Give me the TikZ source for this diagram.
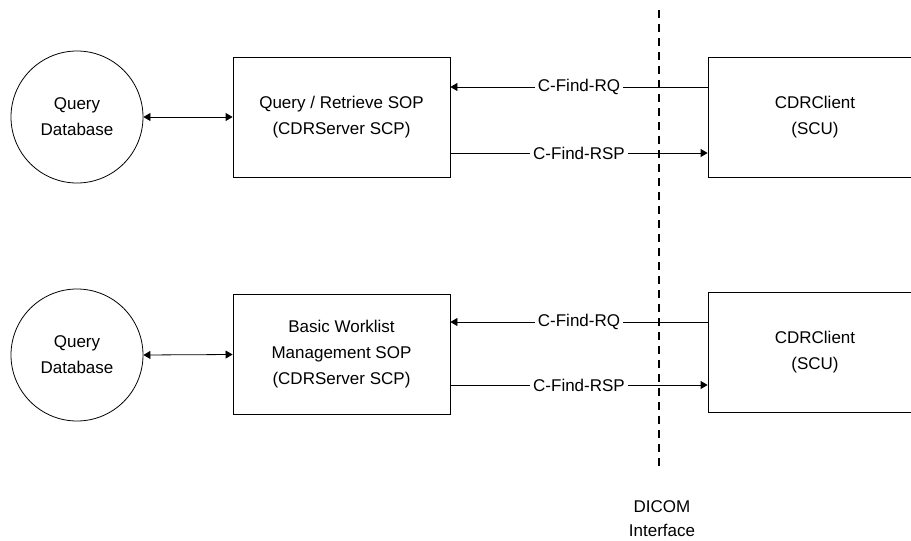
\documentclass[tikz,border=0pt]{standalone}
\usepackage{fontspec}
\setmainfont{Liberation Sans}
\usetikzlibrary{arrows.meta}
\begin{document}
\begin{tikzpicture}[x=1pt,y=-1pt,
  font=\fontsize{17}{26}\selectfont,
  every node/.style={inner sep=0pt},
  db/.style={draw, line width=0.8pt, circle, minimum size=132pt, align=center},
  sopbox/.style={draw, line width=0.8pt, rectangle, minimum width=217pt, minimum height=120pt, align=center},
  scubox/.style={draw, line width=0.8pt, rectangle, minimum width=214pt, minimum height=120pt, align=center},
  msg/.style={line width=0.8pt, -{Triangle[length=7pt,width=8pt]}},
  link/.style={line width=0.8pt, {Triangle[length=7pt,width=8pt]}-{Triangle[length=7pt,width=8pt]}},
  lbl/.style={fill=white, inner xsep=3pt, inner ysep=1pt},
  iface/.style={line width=1.6pt, dash pattern=on 8pt off 6pt}
]
\useasboundingbox (0,0) rectangle (911,541);
\clip (0,0) rectangle (911,541);

% upper row: query / retrieve
\node[db] (db1) at (77,117) {Query\\Database};
\node[sopbox] (qr) at (341.5,117) {Query / Retrieve SOP\\(CDRServer SCP)};
\node[scubox] (cl1) at (815,117) {CDRClient\\(SCU)};

% lower row: worklist management
\node[db] (db2) at (77,355) {Query\\Database};
\node[sopbox] (wl) at (341.5,354.5) {Basic Worklist\\Management SOP\\(CDRServer SCP)};
\node[scubox] (cl2) at (815,352) {CDRClient\\(SCU)};

% DICOM interface boundary
\coordinate (itop) at (659,10);
\coordinate (ibot) at (659,468);
\draw[iface] (itop) -- (ibot);
\node[align=center, font=\fontsize{17}{24}\selectfont] (ilbl) at (662,519) {DICOM\\Interface};

% database links
\draw[link] (db1.east) -- (qr.west);
\draw[link] (db2.east) -- (wl.west);

% DIMSE messages, upper row
\draw[msg] (cl1.west |- 0,87) -- node[lbl, pos=0.5] {C-Find-RQ} (qr.east |- 0,87);
\draw[msg] (qr.east |- 0,153) -- node[lbl, pos=0.5] {C-Find-RSP} (cl1.west |- 0,153);

% DIMSE messages, lower row
\draw[msg] (cl2.west |- 0,322) -- node[lbl, pos=0.5] {C-Find-RQ} (wl.east |- 0,322);
\draw[msg] (wl.east |- 0,385) -- node[lbl, pos=0.5] {C-Find-RSP} (cl2.west |- 0,385);
\end{tikzpicture}
\end{document}
